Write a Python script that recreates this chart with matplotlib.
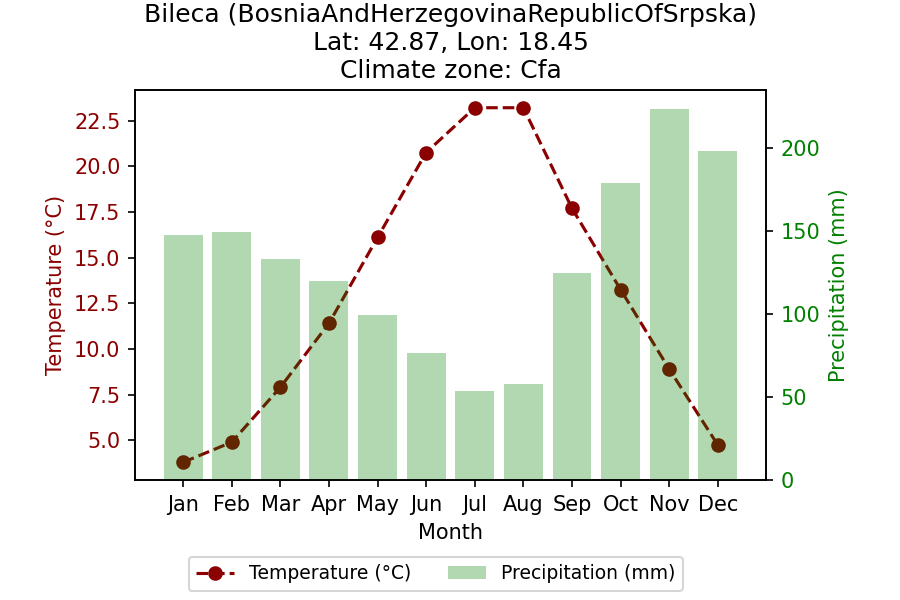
import matplotlib.pyplot as plt

months = ["Jan", "Feb", "Mar", "Apr", "May", "Jun",
          "Jul", "Aug", "Sep", "Oct", "Nov", "Dec"]
temperature = [3.8, 4.9, 7.9, 11.4, 16.1, 20.75, 23.2, 23.2, 17.7, 13.25, 8.9, 4.75]
precipitation = [147.5, 149.3, 133.1, 119.8, 99.3, 76.4, 53.5, 57.7, 124.6, 178.9, 223.6, 198.2]

fig, ax1 = plt.subplots(figsize=(6, 4), dpi=150)
fig.subplots_adjust(left=0.15, right=0.851, top=0.85, bottom=0.2)

line, = ax1.plot(months, temperature, color="darkred", linestyle="--",
                 marker="o", label="Temperature (°C)")
ax1.set_xlabel("Month")
ax1.set_ylabel("Temperature (°C)", color="darkred")
ax1.tick_params(axis="y", labelcolor="darkred")

ax2 = ax1.twinx()
bars = ax2.bar(months, precipitation, color="green", alpha=0.3,
               label="Precipitation (mm)")
ax2.set_ylabel("Precipitation (mm)", color="green")
ax2.tick_params(axis="y", labelcolor="green")

ax1.set_title("Bileca (BosniaAndHerzegovinaRepublicOfSrpska)\n"
              "Lat: 42.87, Lon: 18.45\nClimate zone: Cfa")

fig.legend([line, bars], ["Temperature (°C)", "Precipitation (mm)"],
           loc="lower center", ncol=2, bbox_to_anchor=(0.484, 0.0), fontsize=9)

fig.savefig("out.png", dpi=150)
